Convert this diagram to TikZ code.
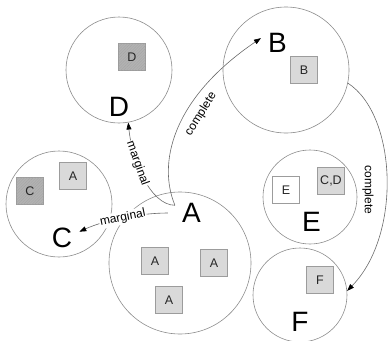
\documentclass[tikz,border=0pt]{standalone}
\usepackage{fontspec}
\setmainfont{Liberation Sans}
\usetikzlibrary{arrows.meta,patterns}
\definecolor{ringgray}{HTML}{8C8C8C}
\definecolor{linkgray}{HTML}{6A6A6A}
\definecolor{boxedge}{HTML}{9C9C9C}
\definecolor{boxfill}{HTML}{D9D9D9}
\definecolor{hatchfill}{HTML}{B2B2B2}
\definecolor{hatchline}{HTML}{A4A4A4}
\tikzset{
  ring/.style={circle, draw=ringgray, line width=0.6bp, inner sep=0pt, minimum size=#1},
  item/.style={draw=boxedge, line width=0.8bp, fill=boxfill, minimum size=27bp, inner sep=0pt,
    text=black!85, font=\fontsize{12.5bp}{14bp}\selectfont},
  hatched/.style={item, fill=hatchfill, postaction={pattern={Lines[angle=45, distance=2bp, line width=0.3bp]}, pattern color=hatchline}},
  blank/.style={item, fill=white},
  big/.style={inner xsep=7bp, inner ysep=2bp, font=\fontsize{28bp}{30bp}\selectfont},
  link/.style={draw=linkgray, line width=0.6bp, -{Triangle[length=7bp, width=5bp, color=black, fill=black]}},
  lbl/.style={font=\fontsize{12bp}{14bp}\selectfont, inner sep=1bp},
  onlbl/.style={lbl, fill=white, sloped},
}
\usetikzlibrary{patterns.meta}
\begin{document}
\begin{tikzpicture}[x=1bp, y=-1bp]
\useasboundingbox (0,0) rectangle (388,341);

% groups
\node[ring=106bp] (cD) at (119,70) {};
\node[ring=126bp] (cB) at (286,70) {};
\node[ring=106bp] (cC) at (59,204) {};
\node[ring=142bp] (cA) at (180,263) {};
\node[ring=94bp]  (cE) at (310,197) {};
\node[ring=94bp]  (cF) at (300,295) {};

% members
\node[hatched] (bD)  at (132,57)  {D};
\node[item]    (bB)  at (304,70)  {B};
\node[hatched] (bC)  at (30,191)  {C};
\node[item]    (bCA) at (73,176)  {A};
\node[item]    (bA1) at (155,261) {A};
\node[item]    (bA2) at (169,300) {A};
\node[item]    (bA3) at (214,263) {A};
\node[blank]   (bE)  at (286,190) {E};
\node[item]    (bCD) at (331,181) {C,D};
\node[item]    (bF)  at (320,280) {F};

% group names
\node[big] (lD) at (119,107)  {D};
\node[big] (lB) at (277.5,42.5) {B};
\node[big] (lC) at (62,238)   {C};
\node[big] (lA) at (191.5,213) {A};
\node[big] (lE) at (311.5,221.5) {E};
\node[big] (lF) at (300,322)  {F};

% relations
\draw[link] (lA.155) .. controls (150,205) and (132,160) .. node[onlbl, pos=0.64] {marginal} (cD.-80);
\draw[link] ([xshift=-7bp]lA.west) .. controls (140,213) and (105,220) .. node[onlbl, pos=0.5] {marginal} (lC.20);
\draw[link] (lA.155) .. controls (158,165) and (170,100) .. (lB.165);
\draw[link] (cB.-12) .. controls (397,115) and (402,235) .. (cF.5);
\node[lbl, rotate=58] (tAB) at (201,114) {complete};
\node[lbl, rotate=-90] (tBF) at (368,190) {complete};
\end{tikzpicture}
\end{document}
